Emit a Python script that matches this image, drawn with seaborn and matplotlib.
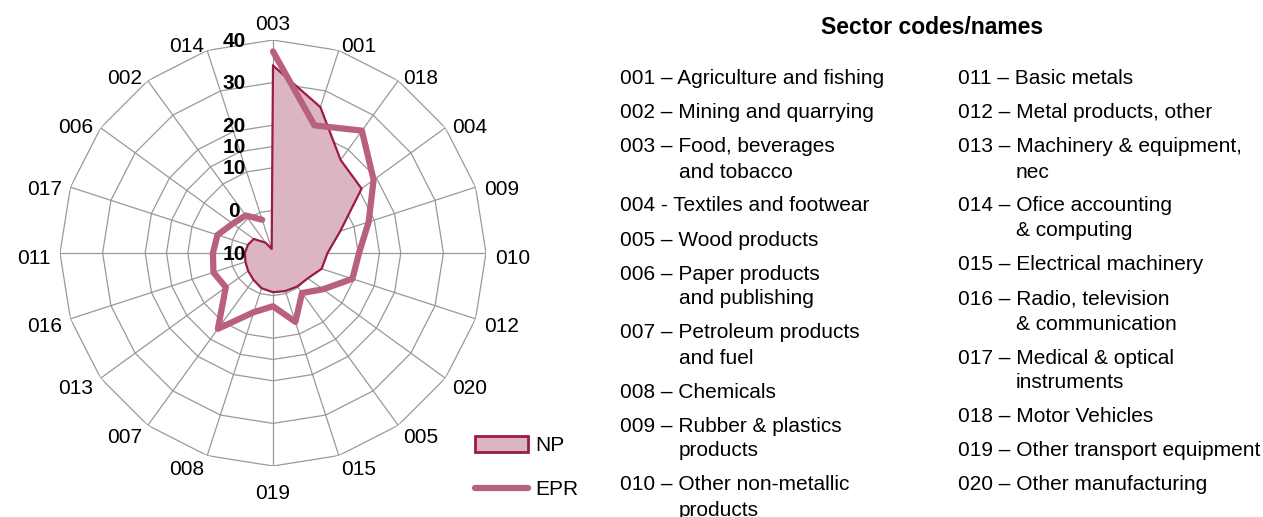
import numpy as np
import matplotlib
matplotlib.use("Agg")
import matplotlib.pyplot as plt
import seaborn as sns
from matplotlib.patches import Patch
from matplotlib.lines import Line2D
from matplotlib.transforms import offset_copy

# sector order around the radar, clockwise from the top
sectors = ["003", "001", "018", "004", "009", "010", "012", "020", "005", "015",
           "019", "008", "007", "013", "016", "011", "017", "006", "002", "014"]
np_vals = [34.0, 26.0, 17.0, 15.7, 6.6, 2.8, 2.0, 0.1, -0.3, -0.6,
           -0.8, -1.3, -2.2, -2.8, -3.2, -3.4, -3.8, -4.4, -7.0, -9.0]
epr_vals = [37.3, 21.5, 25.5, 19.2, 13.6, 10.2, 9.6, 4.5, 1.6, 7.0,
            2.5, 4.6, 12.0, 3.7, 4.7, 4.1, 3.7, 1.7, 0.9, -1.8]

# radial ticks and the labels as printed on the chart
r_ticks = [-10, 0, 10, 15, 20, 30, 40]
r_labels = ["10", "0", "10", "10", "20", "30", "40"]

# key to sector codes
names_left = ["001 – Agriculture and fishing", "002 – Mining and quarrying",
              "003 – Food, beverages\nand tobacco", "004 - Textiles and footwear",
              "005 – Wood products", "006 – Paper products\nand publishing",
              "007 – Petroleum products\nand fuel", "008 – Chemicals",
              "009 – Rubber & plastics\nproducts", "010 – Other non-metallic\nproducts"]
names_right = ["011 – Basic metals", "012 – Metal products, other",
               "013 – Machinery & equipment,\nnec", "014 – Ofice accounting\n& computing",
               "015 – Electrical machinery", "016 – Radio, television\n& communication",
               "017 – Medical & optical\ninstruments", "018 – Motor Vehicles",
               "019 – Other transport equipment", "020 – Other manufacturing"]

sns.set_theme(style="white")
plt.rcParams["font.family"] = ["Liberation Sans", "DejaVu Sans"]
plt.rcParams["text.color"] = "black"

W, H = 1263, 517
FS = 15
fig = plt.figure(figsize=(W / 100, H / 100), dpi=100)
ax = fig.add_axes([60 / W, 1 - 466 / H, 426 / W, 426 / H], projection="polar")
ax.set_theta_zero_location("N")
ax.set_theta_direction(-1)
ax.set_ylim(-10, 40)
ax.grid(False)
ax.spines["polar"].set_visible(False)
ax.set_xticks([])
ax.set_yticks([])
ax.set_facecolor("white")

theta = np.deg2rad(np.arange(len(sectors)) * 360 / len(sectors))
theta_c = np.append(theta, theta[0])

grid_col = "#999999"
# polygon gridlines, Excel style
for t in r_ticks[1:]:
    ax.plot(theta_c, np.full(len(theta_c), t), color=grid_col, lw=0.9, zorder=1)
for th in theta:
    ax.plot([th, th], [-10, 40], color=grid_col, lw=0.9, zorder=1)

np_c = np.append(np_vals, np_vals[0])
epr_c = np.append(epr_vals, epr_vals[0])
ax.fill(theta_c, np_c, color="#dbb6c2", zorder=2)
ax.plot(theta_c, np_c, color="#9c1a4b", lw=1.6, zorder=3)
sns.lineplot(x=theta_c, y=epr_c, sort=False, ax=ax, color="#b9617c", lw=4.5, zorder=4)
ax.set_xlabel("")
ax.set_ylabel("")

# sector labels around the outside, box pushed off the ring like Excel does
for th, s in zip(theta, sectors):
    sx, cy = np.sin(th), np.cos(th)
    if abs(sx) < 0.01:
        ha = "center"
        va = "bottom" if cy > 0 else "top"
    else:
        ha = "left" if sx > 0 else "right"
        va = "center_baseline"
    dy = -9 if va == "top" else -3
    tr = offset_copy(ax.transData, fig=fig, x=0, y=dy, units="dots")
    ax.text(th, 42.1, s, ha=ha, va=va, fontsize=FS, clip_on=False, transform=tr)

# radial value labels, left of the top spoke
trans = offset_copy(ax.transData, fig=fig, x=-39, y=1, units="dots")
for t, lab in zip(r_ticks, r_labels):
    ax.text(0, t, lab, transform=trans, ha="center", va="center_baseline",
            fontsize=FS, fontweight="bold", zorder=5)

# legend
handles = [Patch(facecolor="#dbb6c2", edgecolor="#9c1a4b", lw=2),
           Line2D([0], [0], color="#b9617c", lw=4.5, solid_capstyle="round")]
fig.legend(handles, ["NP", "EPR"], loc="upper left",
           bbox_to_anchor=(456 / W, 1 - 417 / H), frameon=False, fontsize=FS,
           handlelength=2.55, handleheight=0.8, labelspacing=1.2, handletextpad=0.35)

# key to the sector codes
fig.text(932 / W, 1 - 25 / H, "Sector codes/names", ha="center", va="center_baseline",
         fontsize=16.5, fontweight="bold")


def draw_column(lines, x0, x1):
    y = 77
    for entry in lines:
        parts = entry.split("\n")
        fig.text(x0 / W, 1 - y / H, parts[0], ha="left", va="center_baseline", fontsize=FS)
        for extra in parts[1:]:
            y += 25
            fig.text(x1 / W, 1 - y / H, extra, ha="left", va="center_baseline", fontsize=FS)
        y += 34


draw_column(names_left, 620, 679)
draw_column(names_right, 958, 1016)

fig.savefig("out.png", dpi=100)
